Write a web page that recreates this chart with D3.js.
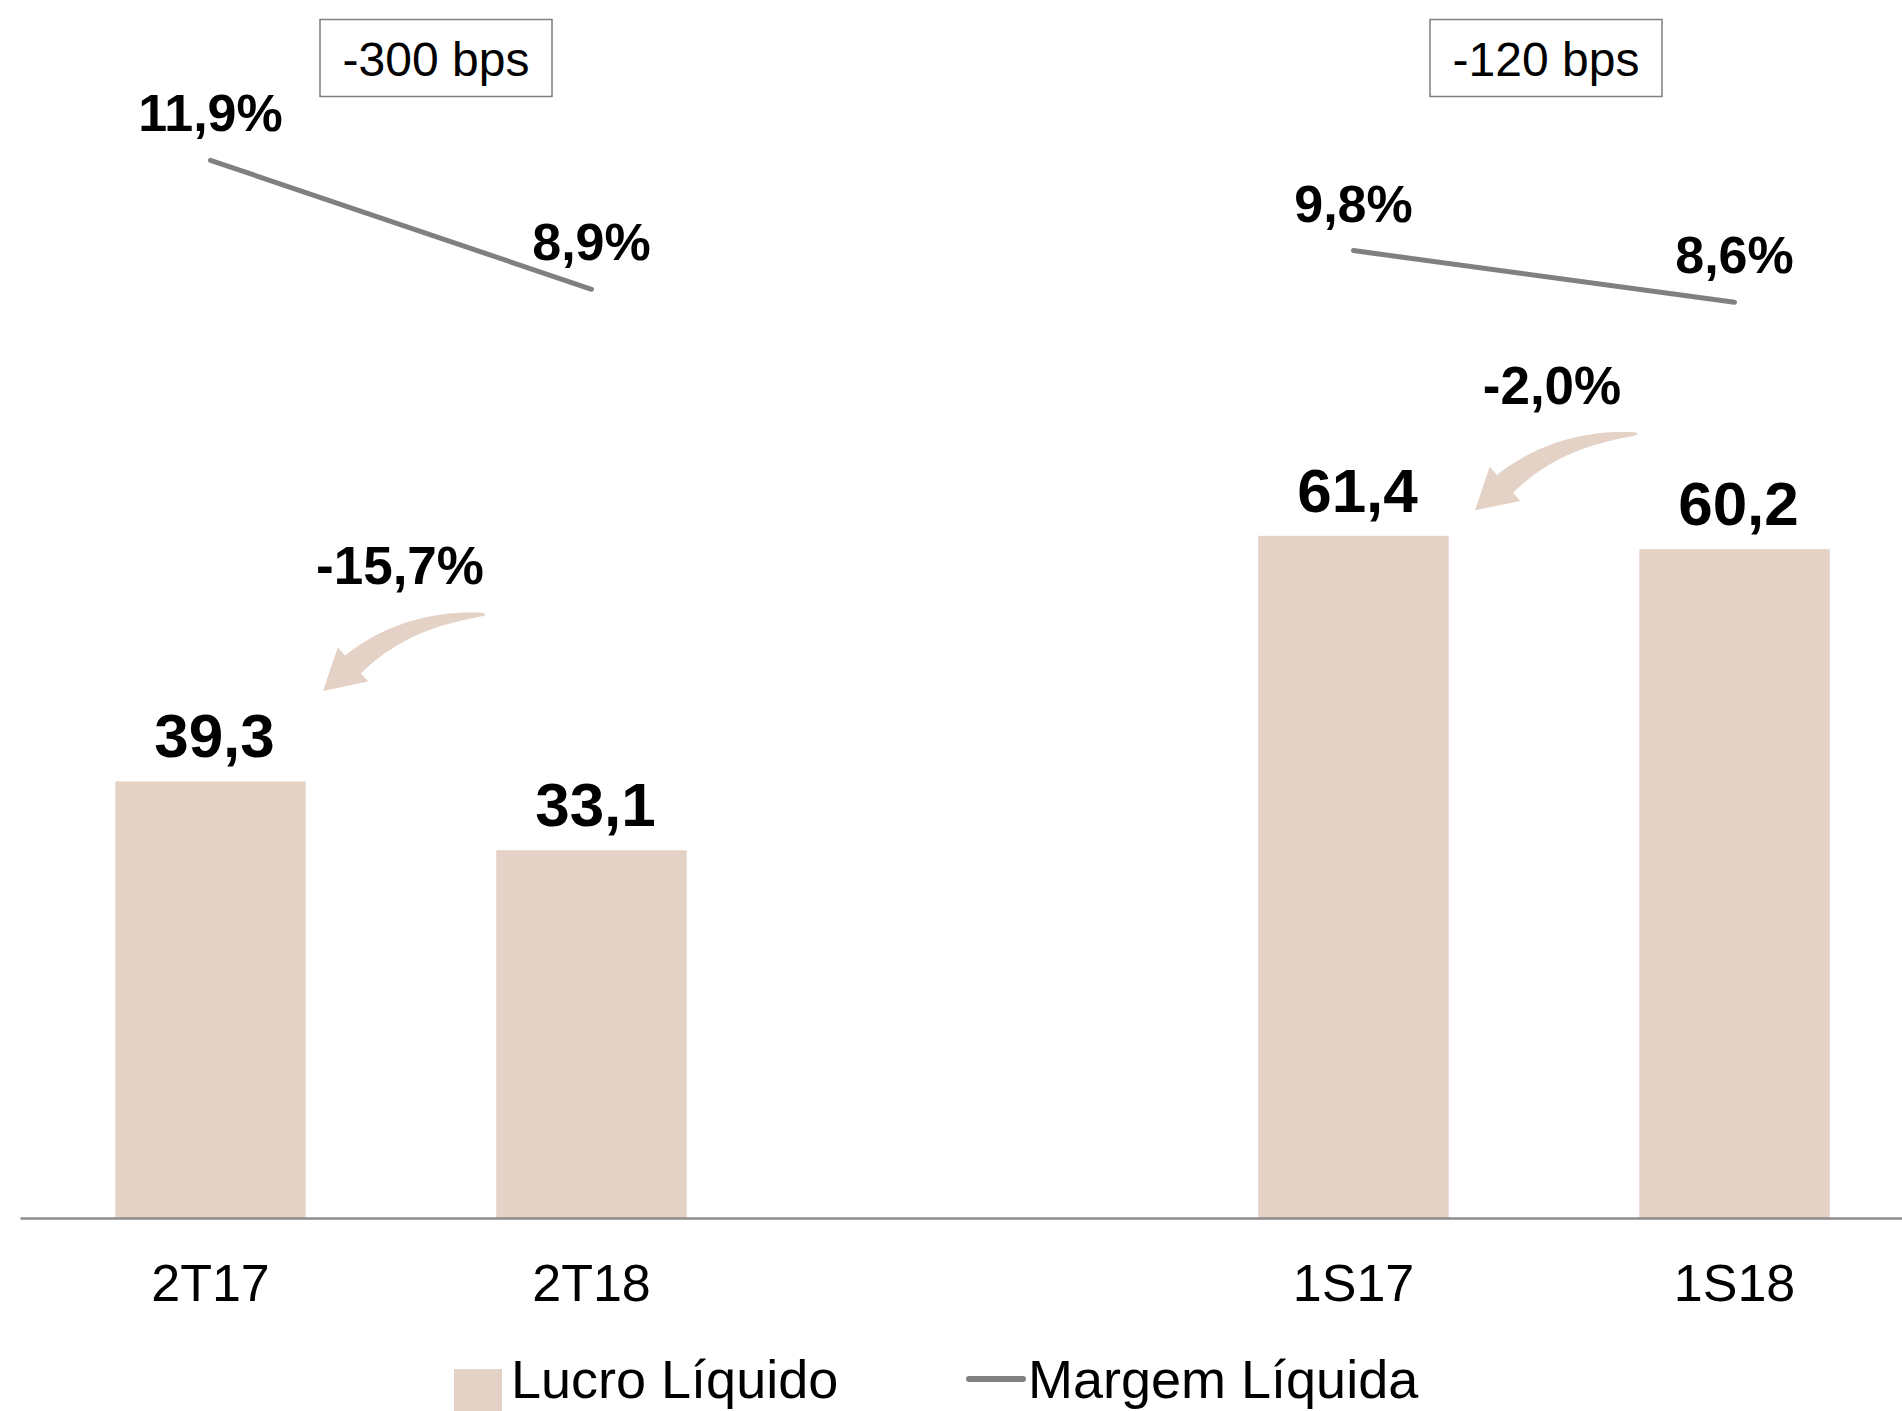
<!DOCTYPE html>
<html>
<head>
<meta charset="utf-8">
<script src="https://cdn.jsdelivr.net/npm/d3@7"></script>
<style>
    body { margin: 0; background: #fff; }
    text { font-family: "Liberation Sans", Arial, sans-serif; }
</style>
</head>
<body>
<script>
(function(){

    //chart data
    var categories = ["2T17", "2T18", "", "1S17", "1S18"]; //blank slot separates the two groups
    var lucro = [39.3, 33.1, null, 61.4, 60.2]; //Lucro Líquido
    var margem = [11.9, 8.9, null, 9.8, 8.6]; //Margem Líquida (%)
    var lucroLabels = ["39,3", "33,1", "", "61,4", "60,2"];
    var margemLabels = ["11,9%", "8,9%", "", "9,8%", "8,6%"];
    var bpsLabels = ["-300 bps", "-120 bps"];
    var growthLabels = ["-15,7%", "-2,0%"];
    var groups = [["2T17", "2T18"], ["1S17", "1S18"]];
    var legendLabels = ["Lucro Líquido", "Margem Líquida"];

    var barColor = "#e5d2c7",
        lineColor = "#808080";

    window.onload = setChart();

    function setChart(){
        var width = 1902,
            height = 1411;

        var svg = d3.select("body")
            .append("svg")
            .attr("width", width)
            .attr("height", height);

        svg.append("rect")
            .attr("width", width)
            .attr("height", height)
            .attr("fill", "#fff");

        //scales
        var x = d3.scaleBand()
            .domain(categories)
            .range([20, 1925])
            .paddingInner(0.5)
            .paddingOuter(0.25);

        var y = d3.scaleLinear()
            .domain([0, 100])
            .range([1218, 107]);

        var y2 = d3.scaleLinear()
            .domain([0, 12])
            .range([672, 156]);

        function cx(c){ return x(c) + x.bandwidth() / 2; }

        var rows = categories.map(function(c, i){
            return {cat: c, v: lucro[i], m: margem[i], vl: lucroLabels[i], ml: margemLabels[i]};
        });
        var filled = rows.filter(function(d){ return d.v != null; });

        //bars
        svg.selectAll(".bar")
            .data(filled)
            .enter()
            .append("rect")
            .attr("class", "bar")
            .attr("x", function(d){ return x(d.cat); })
            .attr("width", x.bandwidth())
            .attr("y", function(d){ return y(d.v); })
            .attr("height", function(d){ return y(0) - y(d.v); })
            .attr("fill", barColor);

        //bar value labels
        svg.selectAll(".valueLabel")
            .data(filled)
            .enter()
            .append("text")
            .attr("class", "valueLabel")
            .attr("x", function(d){ return cx(d.cat) + 4; })
            .attr("y", function(d){ return y(d.v) - 24; })
            .attr("text-anchor", "middle")
            .attr("font-size", 62)
            .attr("font-weight", "bold")
            .text(function(d){ return d.vl; });

        //x axis
        var xAxis = d3.axisBottom(x)
            .tickSize(0)
            .tickSizeOuter(0)
            .tickPadding(46);

        var axis = svg.append("g")
            .attr("transform", "translate(0," + y(0) + ")")
            .call(xAxis);
        axis.select(".domain")
            .attr("stroke", "#8c8c8c")
            .attr("stroke-width", 2.5);
        axis.selectAll("text")
            .attr("font-size", 52)
            .attr("fill", "#000")
            .style("font-family", "'Liberation Sans', Arial, sans-serif");

        //margin line, broken at the blank slot
        var line = d3.line()
            .defined(function(d){ return d.m != null; })
            .x(function(d){ return cx(d.cat); })
            .y(function(d){ return y2(d.m); });

        svg.append("path")
            .datum(rows)
            .attr("d", line)
            .attr("fill", "none")
            .attr("stroke", lineColor)
            .attr("stroke-width", 5)
            .attr("stroke-linecap", "round");

        svg.selectAll(".marginLabel")
            .data(filled)
            .enter()
            .append("text")
            .attr("class", "marginLabel")
            .attr("x", function(d){ return cx(d.cat); })
            .attr("y", function(d){ return y2(d.m) - 29; })
            .attr("text-anchor", "middle")
            .attr("font-size", 52)
            .attr("font-weight", "bold")
            .text(function(d){ return d.ml; });

        //per-group annotations: bps box, growth label, curved arrow
        var boxShift = [35, 2],
            growthShift = [-1, 8],
            growthRise = [197, 132];

        groups.forEach(function(g, i){
            var mid = (cx(g[0]) + cx(g[1])) / 2;
            var first = rows[categories.indexOf(g[0])];

            //bps box
            var bx = mid + boxShift[i];
            svg.append("rect")
                .attr("x", bx - 116)
                .attr("y", 19.5)
                .attr("width", 232)
                .attr("height", 77)
                .attr("fill", "#fff")
                .attr("stroke", "#7f7f7f")
                .attr("stroke-width", 1.5);
            svg.append("text")
                .attr("x", bx)
                .attr("y", 76)
                .attr("text-anchor", "middle")
                .attr("font-size", 48)
                .text(bpsLabels[i]);

            //growth label
            var gx = mid + growthShift[i],
                gy = y(first.v) - growthRise[i];
            svg.append("text")
                .attr("x", gx)
                .attr("y", gy)
                .attr("text-anchor", "middle")
                .attr("font-size", 53)
                .attr("font-weight", "bold")
                .text(growthLabels[i]);

            //curved arrow pointing back to the first bar
            var tail = [gx + 85, gy + 30];
            svg.append("path")
                .attr("d", arrowPath(tail,
                    [tail[0] - 80, tail[1] + 4],
                    [tail[0] - 132, tail[1] + 50],
                    40, 23, 11))
                .attr("fill", barColor);
        });

        //legend (sits at the very bottom edge)
        var legend = svg.append("g");
        legend.append("rect")
            .attr("x", 454)
            .attr("y", 1369)
            .attr("width", 48)
            .attr("height", 48)
            .attr("fill", barColor);
        legend.append("text")
            .attr("x", 511)
            .attr("y", 1398)
            .attr("font-size", 54)
            .text(legendLabels[0]);
        legend.append("line")
            .attr("x1", 969)
            .attr("x2", 1023)
            .attr("y1", 1379)
            .attr("y2", 1379)
            .attr("stroke", lineColor)
            .attr("stroke-width", 6)
            .attr("stroke-linecap", "round");
        legend.append("text")
            .attr("x", 1028)
            .attr("y", 1398)
            .attr("font-size", 54)
            .text(legendLabels[1]);
    };

    //tapered quadratic-curve arrow with a triangular head
    function arrowPath(t0, c, h, headLen, headHalf, bodyHalf){
        var n = 30, left = [], right = [];
        for (var i=0; i<=n; i++){
            var t = i / n, u = 1 - t;
            var px = u*u*t0[0] + 2*u*t*c[0] + t*t*h[0],
                py = u*u*t0[1] + 2*u*t*c[1] + t*t*h[1];
            var dx = 2*u*(c[0]-t0[0]) + 2*t*(h[0]-c[0]),
                dy = 2*u*(c[1]-t0[1]) + 2*t*(h[1]-c[1]);
            var len = Math.sqrt(dx*dx + dy*dy);
            var nx = -dy / len, ny = dx / len;
            var w = bodyHalf * Math.pow(t, 0.7) + 1;
            left.push([px + nx*w, py + ny*w]);
            right.push([px - nx*w, py - ny*w]);
        };
        var ex = h[0] - c[0], ey = h[1] - c[1],
            el = Math.sqrt(ex*ex + ey*ey);
        ex /= el; ey /= el;
        var enx = -ey, eny = ex;
        var tip = [h[0] + ex*headLen, h[1] + ey*headLen];
        var pts = left.concat([
            [h[0] + enx*headHalf, h[1] + eny*headHalf],
            tip,
            [h[0] - enx*headHalf, h[1] - eny*headHalf]
        ]).concat(right.reverse());
        return "M" + pts.map(function(p){ return p[0].toFixed(1) + "," + p[1].toFixed(1); }).join("L") + "Z";
    };
})();
</script>
</body>
</html>
